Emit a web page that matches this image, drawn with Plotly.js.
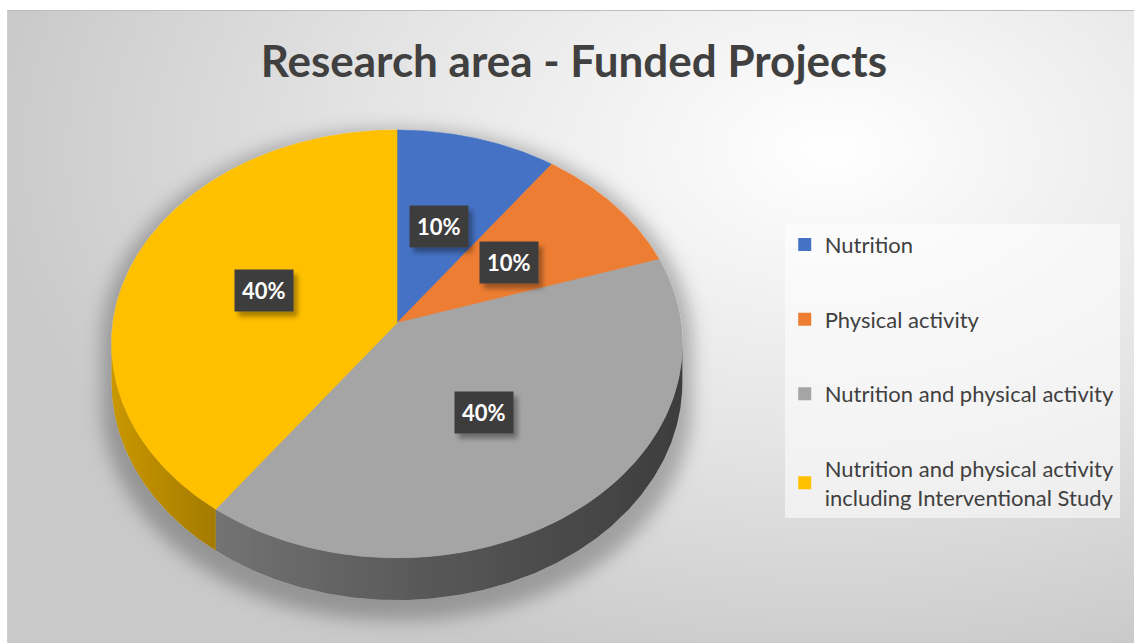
<!DOCTYPE html>
<html>
<head>
<meta charset="utf-8">
<script src="https://cdn.plot.ly/plotly-3.0.1.min.js"></script>
<style>
  html, body { margin:0; padding:0; background:#ffffff; }
  #wrap { position:relative; width:1134px; height:643px; overflow:hidden; }
  #bg { position:absolute; left:7px; top:10px; width:1127px; height:633px;
        border-top:1px solid #bdbdbd; border-left:1px solid #cfcfcf; box-sizing:border-box;
        background: radial-gradient(ellipse 75% 85% at 73% 22%, #ffffff 0%, #f6f6f6 18%, #e4e4e4 55%, #d2d2d2 85%, #c9c9c9 100%); }
  #chart { position:absolute; left:0; top:0; width:1134px; height:643px; }
</style>
</head>
<body>
<div id="wrap"><div id="bg"></div><div id="chart"></div></div>
<script>
// ---- data ----
const categories = ['Nutrition', 'Physical activity', 'Nutrition and physical activity',
                    'Nutrition and physical activity<br>including Interventional Study'];
const shares = [10, 10, 40, 40];
const chartTitle = 'Research area - Funded Projects';

// ---- styles ----
const topColors = ['#4472C4', '#ED7D31', '#A5A5A5', '#FFC000'];
const wallScales = [
  [[0, '#30518c'], [1, '#263f6e']],
  [[0, '#b25d22'], [1, '#8f4a1a']],
  [[0, '#737373'], [0.45, '#585858'], [1, '#3d3d3d']],
  [[0, '#c99700'], [1, '#a47b00']]
];
const FONT = 'Lato, "Open Sans", sans-serif';

// ---- perspective projection of the pie disk (unit radius) ----
const persp = 0.098, tilt = 0.746, depth = 0.134;
function proj(thetaDeg, r, drop) {
  const t = thetaDeg * Math.PI / 180;
  const X = r * Math.sin(t), Z = r * Math.cos(t);
  const w = 1 + persp * Z;
  return [X / w, (tilt * Z - drop) / w];
}
function arc(a0, a1, drop) {
  const xs = [], ys = [];
  const n = Math.max(2, Math.ceil(Math.abs(a1 - a0) / 0.5));
  for (let k = 0; k <= n; k++) {
    const a = a0 + (a1 - a0) * k / n;
    const p = proj(a, 1, drop);
    xs.push(p[0]); ys.push(p[1]);
  }
  return [xs, ys];
}

const total = shares.reduce((s, v) => s + v, 0);
const bounds = [];
let cum = 0;
shares.forEach(v => { bounds.push([cum / total * 360, (cum + v) / total * 360]); cum += v; });

const visLo = Math.acos(-persp) * 180 / Math.PI;   // ~95.6 deg
const visHi = 360 - visLo;

const traces = [];
// walls (visible front side)
bounds.forEach((b, i) => {
  const lo = Math.max(b[0], visLo), hi = Math.min(b[1], visHi);
  if (hi <= lo) return;
  const top = arc(lo, hi, 0), bot = arc(hi, lo, depth);
  traces.push({
    type: 'scatter', mode: 'lines', x: top[0].concat(bot[0]), y: top[1].concat(bot[1]),
    fill: 'toself', fillgradient: {type: 'horizontal', colorscale: wallScales[i]},
    line: {width: 0}, hoverinfo: 'skip', showlegend: false
  });
});
// top faces
bounds.forEach((b, i) => {
  const a = arc(b[0], b[1], 0);
  traces.push({
    type: 'scatter', mode: 'lines', x: [0].concat(a[0], [0]), y: [0].concat(a[1], [0]),
    fill: 'toself', fillcolor: topColors[i], line: {width: 0.6, color: topColors[i]},
    hoverinfo: 'skip', showlegend: false
  });
});
// legend entries
categories.forEach((c, i) => {
  traces.push({
    type: 'scatter', mode: 'markers', x: [null], y: [null], name: c, legendgroup: 'g' + i,
    marker: {symbol: 'square', size: 13, color: topColors[i]}, hoverinfo: 'skip'
  });
});

// percentage labels
const annotations = [];
bounds.forEach((b, i) => {
  const mid = (b[0] + b[1]) / 2;
  const p = proj(mid, 0.5, 0);
  const txt = Math.round(shares[i] / total * 100) + '%';
  annotations.push({x: p[0], y: p[1], xref: 'x', yref: 'y', showarrow: false, text: txt,
    font: {family: FONT, size: 22, color: '#ffffff', weight: 'bold'},
    bgcolor: '#3d3d3d', borderpad: 7});
});

const layout = {
  width: 1134, height: 643,
  margin: {l: 0, r: 0, t: 0, b: 0},
  paper_bgcolor: 'rgba(0,0,0,0)', plot_bgcolor: 'rgba(0,0,0,0)',
  title: {text: chartTitle, x: 0.506, xanchor: 'center', y: 0.904, yanchor: 'middle',
          font: {family: FONT, size: 44, color: '#404040', weight: 'bold'}},
  xaxis: {range: [-1.3979, 2.5951], visible: false, fixedrange: true},
  yaxis: {range: [-1.1268, 1.1373], visible: false, fixedrange: true},
  showlegend: true,
  legend: {x: 0.692, y: 0.652, xanchor: 'left', yanchor: 'top',
           bgcolor: 'rgba(255,255,255,0.55)', borderwidth: 0,
           font: {family: FONT, size: 22, color: '#404040'},
           tracegroupgap: 43, itemclick: false, itemdoubleclick: false},
  annotations: annotations
};

Plotly.newPlot('chart', traces, layout, {displayModeBar: false, staticPlot: true}).then(gd => {
  const svg = gd.querySelector('svg.main-svg');
  const ns = 'http://www.w3.org/2000/svg';
  let defs = svg.querySelector('defs');
  if (!defs) { defs = document.createElementNS(ns, 'defs'); svg.insertBefore(defs, svg.firstChild); }
  const f = document.createElementNS(ns, 'filter');
  f.setAttribute('id', 'pieShadow');
  f.setAttribute('x', '-20%'); f.setAttribute('y', '-20%');
  f.setAttribute('width', '140%'); f.setAttribute('height', '150%');
  f.innerHTML = '<feMorphology in="SourceAlpha" operator="dilate" radius="10" result="d"/>' +
    '<feGaussianBlur in="d" stdDeviation="9"/>' +
    '<feOffset dx="0" dy="10" result="ob"/>' +
    '<feFlood flood-color="#000" flood-opacity="0.26"/>' +
    '<feComposite in2="ob" operator="in"/>' +
    '<feMerge><feMergeNode/><feMergeNode in="SourceGraphic"/></feMerge>';
  defs.appendChild(f);
  const f2 = document.createElementNS(ns, 'filter');
  f2.setAttribute('id', 'lblShadow');
  f2.setAttribute('x', '-30%'); f2.setAttribute('y', '-30%');
  f2.setAttribute('width', '160%'); f2.setAttribute('height', '170%');
  f2.innerHTML = '<feGaussianBlur in="SourceAlpha" stdDeviation="2.5"/>' +
    '<feOffset dx="4" dy="5" result="ob"/>' +
    '<feFlood flood-color="#000" flood-opacity="0.35"/>' +
    '<feComposite in2="ob" operator="in"/>' +
    '<feMerge><feMergeNode/><feMergeNode in="SourceGraphic"/></feMerge>';
  defs.appendChild(f2);
  const layer = svg.querySelector('.scatterlayer');
  if (layer) layer.setAttribute('filter', 'url(#pieShadow)');
  gd.querySelectorAll('.annotation-text-g rect.bg').forEach(r => r.setAttribute('filter', 'url(#lblShadow)'));
});
</script>
</body>
</html>
